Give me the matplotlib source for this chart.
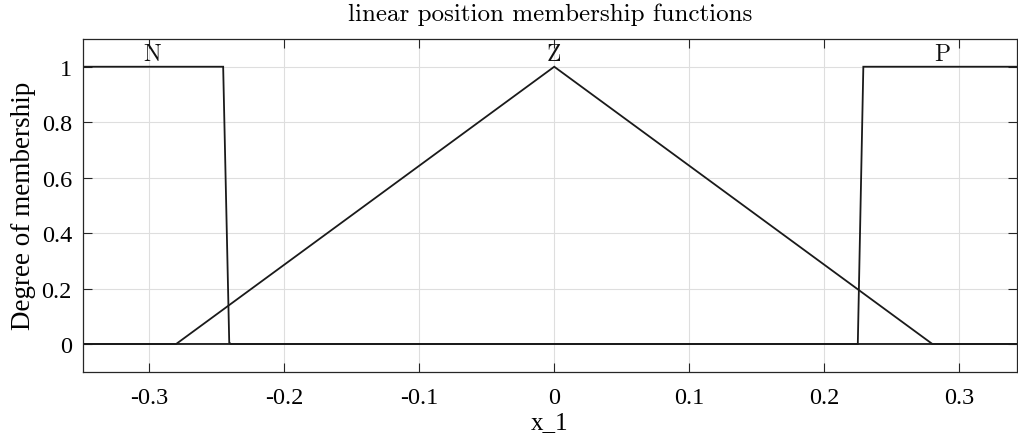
import matplotlib
matplotlib.use('Agg')
import matplotlib.pyplot as plt
from matplotlib.ticker import FuncFormatter

# membership function breakpoints over the input range
x_range = [-0.349, 0.3427]
n_x = [-0.349, -0.2452, -0.2407, -0.2395, 0.3427]
n_y = [1, 1, 0.005, 0, 0]
z_x = [-0.349, -0.28, 0.0, 0.28, 0.3427]
z_y = [0, 0, 1, 0, 0]
p_x = [-0.349, 0.2248, 0.2289, 0.3427]
p_y = [0, 0, 1, 1]
mf_names = ['N', 'Z', 'P']
mf_label_x = [-0.2975, 0.0, 0.2875]
x_ticks = [-0.3, -0.2, -0.1, 0, 0.1, 0.2, 0.3]
y_ticks = [0, 0.2, 0.4, 0.6, 0.8, 1]

plt.rcParams['axes.unicode_minus'] = False
tick_font = 'Liberation Serif'
cm_font = 'cmr10'

fig = plt.figure(figsize=(10.18, 4.39), dpi=100)
ax = fig.add_axes([83 / 1018, 66.3 / 439, 934 / 1018, 332.7 / 439])

line_color = '#1a1a1a'
for xs, ys in [(n_x, n_y), (z_x, z_y), (p_x, p_y)]:
    ax.plot(xs, ys, color=line_color, linewidth=1.3, solid_joinstyle='miter')

for name, lx in zip(mf_names, mf_label_x):
    ax.text(lx, 1.008, name, ha='center', va='bottom', fontsize=17, family=cm_font, color='#111111')

ax.set_xlim(x_range)
ax.set_ylim(-0.1, 1.1)
ax.set_xticks(x_ticks)
ax.set_yticks(y_ticks)
fmt = FuncFormatter(lambda v, pos: '%g' % round(v, 3))
ax.xaxis.set_major_formatter(fmt)
ax.yaxis.set_major_formatter(fmt)
ax.grid(True, color='#dedede', linewidth=0.8)
ax.set_axisbelow(True)
ax.tick_params(direction='in', length=6.5, width=0.8, color='#262626',
               top=True, right=True, labelsize=17.5, pad=11)
ax.tick_params(axis='y', pad=8)
for lab in ax.get_xticklabels() + ax.get_yticklabels():
    lab.set_family(tick_font)
for sp in ax.spines.values():
    sp.set_color('#262626')
    sp.set_linewidth(0.9)

ax.set_title('linear position membership functions', family=cm_font, fontsize=18, pad=14)
ax.set_xlabel('x_1', family=tick_font, fontsize=18, labelpad=2)
ax.set_ylabel('Degree of membership', family=tick_font, fontsize=19.5, labelpad=4)

fig.savefig('out.png', dpi=100)
